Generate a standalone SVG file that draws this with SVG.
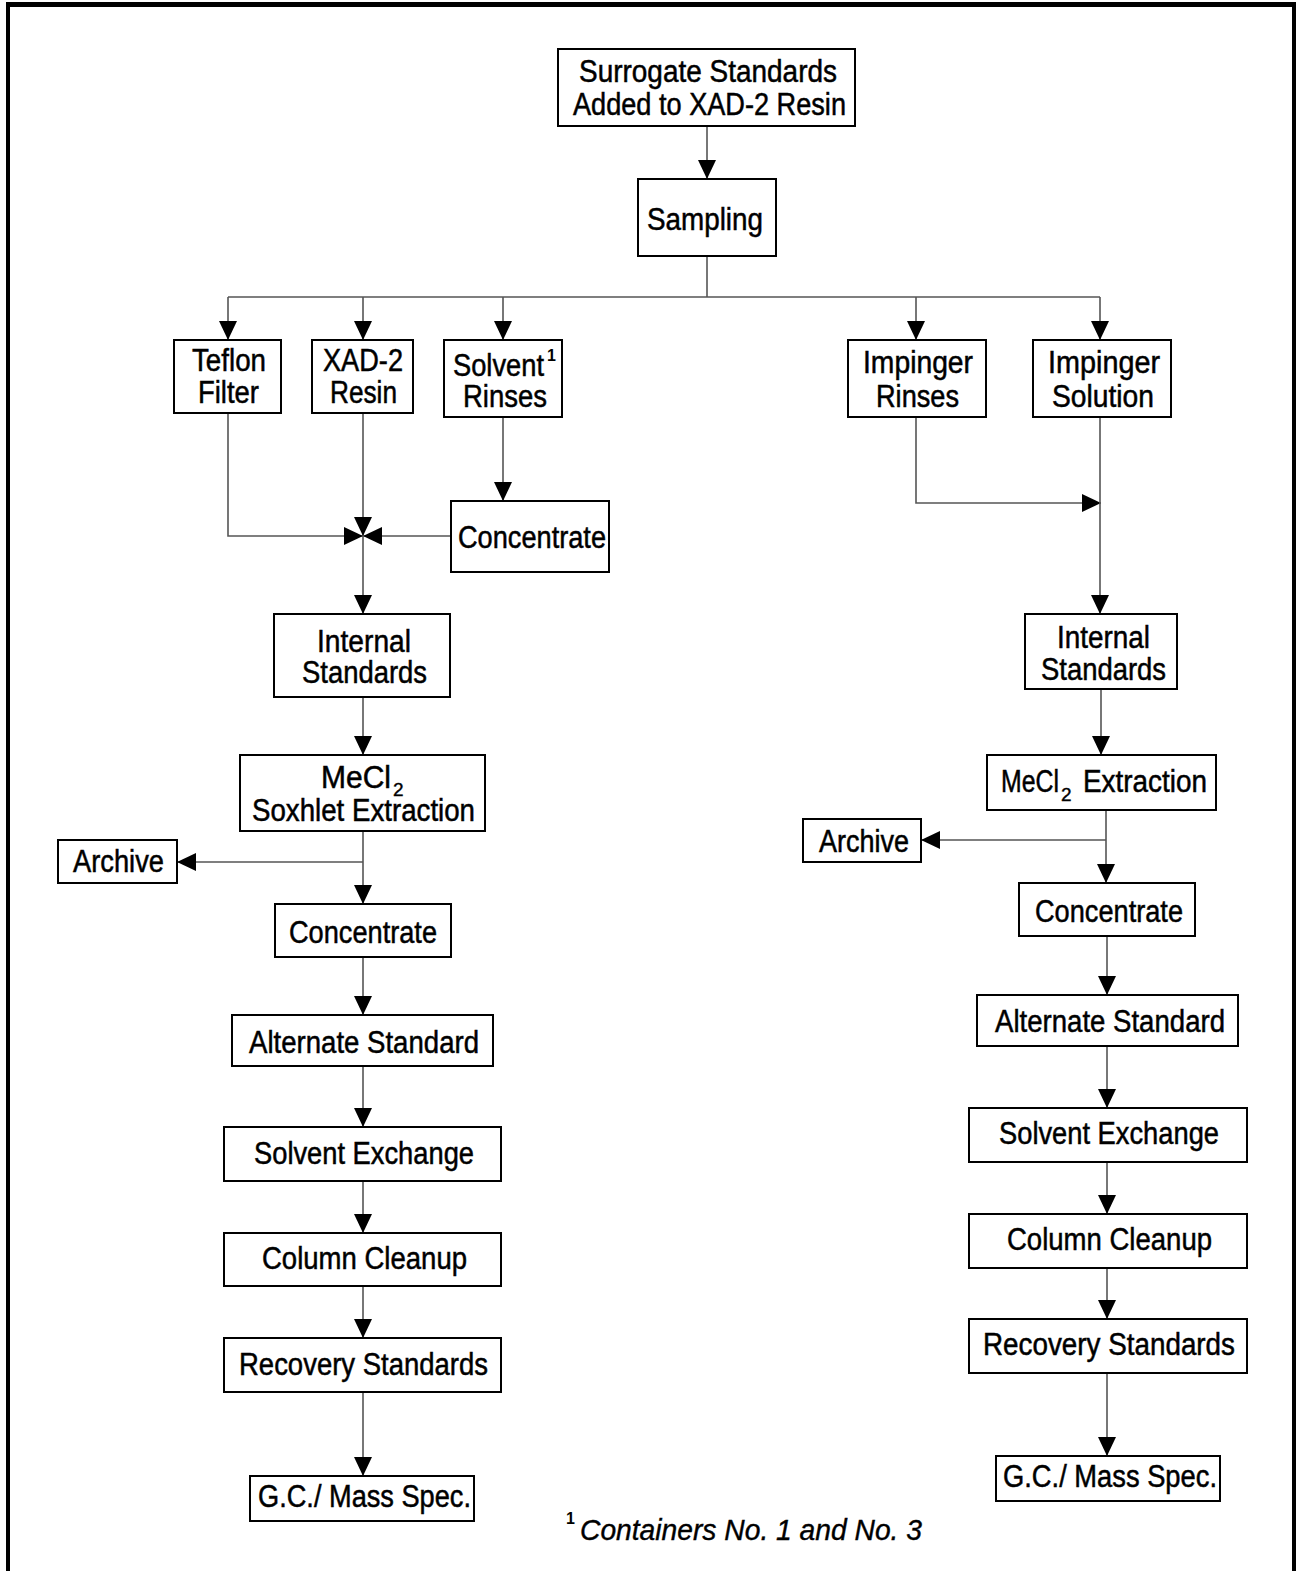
<svg xmlns="http://www.w3.org/2000/svg" width="1296" height="1571" viewBox="0 0 1296 1571">
<style>
.box{fill:#fff;stroke:#000;stroke-width:2}
.t{font-family:"Liberation Sans",Arial,sans-serif;font-size:31px;fill:#000;stroke:#000;stroke-width:0.5}
.sub{font-size:19px;stroke-width:0.4}
.sup{font-size:16px;font-weight:bold;font-style:normal;stroke-width:0}
.fn{font-family:"Liberation Sans",Arial,sans-serif;font-size:30px;font-style:italic;fill:#000;stroke:#000;stroke-width:0.4}
.c{fill:none;stroke:#555;stroke-width:1.6}
.ca{fill:none;stroke:#555;stroke-width:1.6;marker-end:url(#ah)}
</style>
<defs>
<marker id="ah" markerUnits="userSpaceOnUse" markerWidth="19" markerHeight="18" refX="19" refY="9" orient="auto">
<path d="M0,0 L19,9 L0,18 z" fill="#000"/>
</marker>
</defs>
<rect width="1296" height="1571" fill="#fff"/>
<g id="frame">
<rect x="6" y="2" width="1290" height="5" fill="#000"/>
<rect x="6" y="2" width="4" height="1569" fill="#000"/>
<rect x="1292" y="2" width="4" height="1569" fill="#000"/>
</g>
<g id="connectors">
<path class="ca" d="M707,126 V179"/>
<path class="c" d="M707,256 V297"/>
<path class="c" d="M228,297 H1100"/>
<path class="ca" d="M228,297 V340"/>
<path class="ca" d="M363,297 V340"/>
<path class="ca" d="M503,297 V340"/>
<path class="ca" d="M916,297 V340"/>
<path class="ca" d="M1100,297 V340"/>
<path class="ca" d="M228,413 V536 H363"/>
<path class="ca" d="M363,413 V536"/>
<path class="ca" d="M503,417 V501"/>
<path class="ca" d="M451,536 H363"/>
<path class="ca" d="M363,536 V614"/>
<path class="ca" d="M363,697 V755"/>
<path class="ca" d="M363,831 V904"/>
<path class="ca" d="M363,862 H177"/>
<path class="ca" d="M363,957 V1015"/>
<path class="ca" d="M363,1066 V1127"/>
<path class="ca" d="M363,1181 V1233"/>
<path class="ca" d="M363,1286 V1338"/>
<path class="ca" d="M363,1392 V1476"/>
<path class="ca" d="M916,417 V503 H1101"/>
<path class="ca" d="M1100,417 V614"/>
<path class="ca" d="M1101,689 V755"/>
<path class="ca" d="M1106,810 V883"/>
<path class="ca" d="M1106,840 H921"/>
<path class="ca" d="M1107,936 V995"/>
<path class="ca" d="M1107,1046 V1108"/>
<path class="ca" d="M1107,1162 V1214"/>
<path class="ca" d="M1107,1268 V1319"/>
<path class="ca" d="M1107,1373 V1456"/>
</g>
<g id="surrogate">
<rect class="box" x="558" y="49" width="297" height="77"/>
<text class="t" x="579" y="82" textLength="258" lengthAdjust="spacingAndGlyphs">Surrogate Standards</text>
<text class="t" x="573" y="115" textLength="273" lengthAdjust="spacingAndGlyphs">Added to XAD-2 Resin</text>
</g>
<g id="sampling">
<rect class="box" x="638" y="179" width="138" height="77"/>
<text class="t" x="647" y="230" textLength="116" lengthAdjust="spacingAndGlyphs">Sampling</text>
</g>
<g id="teflon">
<rect class="box" x="174" y="340" width="107" height="73"/>
<text class="t" x="192" y="371" textLength="74" lengthAdjust="spacingAndGlyphs">Teflon</text>
<text class="t" x="198" y="403" textLength="61" lengthAdjust="spacingAndGlyphs">Filter</text>
</g>
<g id="xad2">
<rect class="box" x="312" y="340" width="101" height="73"/>
<text class="t" x="323" y="371" textLength="80" lengthAdjust="spacingAndGlyphs">XAD-2</text>
<text class="t" x="330" y="403" textLength="67" lengthAdjust="spacingAndGlyphs">Resin</text>
</g>
<g id="solvent-rinses">
<rect class="box" x="444" y="340" width="118" height="77"/>
<text class="t"><tspan x="453" y="376" textLength="91" lengthAdjust="spacingAndGlyphs">Solvent</tspan><tspan class="sup" x="547" y="361">1</tspan></text>
<text class="t" x="463" y="407" textLength="84" lengthAdjust="spacingAndGlyphs">Rinses</text>
</g>
<g id="concentrate-l1">
<rect class="box" x="451" y="501" width="158" height="71"/>
<text class="t" x="458" y="548" textLength="148" lengthAdjust="spacingAndGlyphs">Concentrate</text>
</g>
<g id="impinger-rinses">
<rect class="box" x="848" y="340" width="138" height="77"/>
<text class="t" x="863" y="373" textLength="110" lengthAdjust="spacingAndGlyphs">Impinger</text>
<text class="t" x="876" y="407" textLength="83" lengthAdjust="spacingAndGlyphs">Rinses</text>
</g>
<g id="impinger-solution">
<rect class="box" x="1033" y="340" width="138" height="77"/>
<text class="t" x="1048" y="373" textLength="112" lengthAdjust="spacingAndGlyphs">Impinger</text>
<text class="t" x="1052" y="407" textLength="102" lengthAdjust="spacingAndGlyphs">Solution</text>
</g>
<g id="internal-l">
<rect class="box" x="274" y="614" width="176" height="83"/>
<text class="t" x="317" y="652" textLength="94" lengthAdjust="spacingAndGlyphs">Internal</text>
<text class="t" x="302" y="683" textLength="125" lengthAdjust="spacingAndGlyphs">Standards</text>
</g>
<g id="internal-r">
<rect class="box" x="1025" y="614" width="152" height="75"/>
<text class="t" x="1057" y="648" textLength="93" lengthAdjust="spacingAndGlyphs">Internal</text>
<text class="t" x="1041" y="680" textLength="125" lengthAdjust="spacingAndGlyphs">Standards</text>
</g>
<g id="mecl2-soxhlet">
<rect class="box" x="240" y="755" width="245" height="76"/>
<text class="t"><tspan x="321" y="788" textLength="70" lengthAdjust="spacingAndGlyphs">MeCl</tspan><tspan class="sub" x="393" y="796">2</tspan></text>
<text class="t" x="252" y="821" textLength="223" lengthAdjust="spacingAndGlyphs">Soxhlet Extraction</text>
</g>
<g id="archive-l">
<rect class="box" x="58" y="840" width="119" height="43"/>
<text class="t" x="73" y="872" textLength="91" lengthAdjust="spacingAndGlyphs">Archive</text>
</g>
<g id="concentrate-l2">
<rect class="box" x="275" y="904" width="176" height="53"/>
<text class="t" x="289" y="943" textLength="148" lengthAdjust="spacingAndGlyphs">Concentrate</text>
</g>
<g id="alternate-l">
<rect class="box" x="232" y="1015" width="261" height="51"/>
<text class="t" x="249" y="1053" textLength="230" lengthAdjust="spacingAndGlyphs">Alternate Standard</text>
</g>
<g id="solvent-exchange-l">
<rect class="box" x="224" y="1127" width="277" height="54"/>
<text class="t" x="254" y="1164" textLength="220" lengthAdjust="spacingAndGlyphs">Solvent Exchange</text>
</g>
<g id="column-l">
<rect class="box" x="224" y="1233" width="277" height="53"/>
<text class="t" x="262" y="1269" textLength="205" lengthAdjust="spacingAndGlyphs">Column Cleanup</text>
</g>
<g id="recovery-l">
<rect class="box" x="224" y="1338" width="277" height="54"/>
<text class="t" x="239" y="1375" textLength="249" lengthAdjust="spacingAndGlyphs">Recovery Standards</text>
</g>
<g id="gcms-l">
<rect class="box" x="250" y="1476" width="224" height="45"/>
<text class="t" x="258" y="1507" textLength="213" lengthAdjust="spacingAndGlyphs">G.C./ Mass Spec.</text>
</g>
<g id="mecl2-extraction">
<rect class="box" x="987" y="755" width="229" height="55"/>
<text class="t"><tspan x="1001" y="792" textLength="58" lengthAdjust="spacingAndGlyphs">MeCl</tspan><tspan class="sub" x="1061" y="801">2</tspan><tspan x="1083" y="792" textLength="124" lengthAdjust="spacingAndGlyphs">Extraction</tspan></text>
</g>
<g id="archive-r">
<rect class="box" x="803" y="819" width="118" height="43"/>
<text class="t" x="819" y="852" textLength="90" lengthAdjust="spacingAndGlyphs">Archive</text>
</g>
<g id="concentrate-r">
<rect class="box" x="1019" y="883" width="176" height="53"/>
<text class="t" x="1035" y="922" textLength="148" lengthAdjust="spacingAndGlyphs">Concentrate</text>
</g>
<g id="alternate-r">
<rect class="box" x="977" y="995" width="261" height="51"/>
<text class="t" x="995" y="1032" textLength="230" lengthAdjust="spacingAndGlyphs">Alternate Standard</text>
</g>
<g id="solvent-exchange-r">
<rect class="box" x="969" y="1108" width="278" height="54"/>
<text class="t" x="999" y="1144" textLength="220" lengthAdjust="spacingAndGlyphs">Solvent Exchange</text>
</g>
<g id="column-r">
<rect class="box" x="969" y="1214" width="278" height="54"/>
<text class="t" x="1007" y="1250" textLength="205" lengthAdjust="spacingAndGlyphs">Column Cleanup</text>
</g>
<g id="recovery-r">
<rect class="box" x="969" y="1319" width="278" height="54"/>
<text class="t" x="983" y="1355" textLength="252" lengthAdjust="spacingAndGlyphs">Recovery Standards</text>
</g>
<g id="gcms-r">
<rect class="box" x="996" y="1456" width="224" height="45"/>
<text class="t" x="1003" y="1487" textLength="214" lengthAdjust="spacingAndGlyphs">G.C./ Mass Spec.</text>
</g>
<g id="footnote">
<text class="fn"><tspan class="sup" x="566" y="1524">1</tspan><tspan x="580" y="1540" textLength="342" lengthAdjust="spacingAndGlyphs">Containers No. 1 and No. 3</tspan></text>
</g>
</svg>
